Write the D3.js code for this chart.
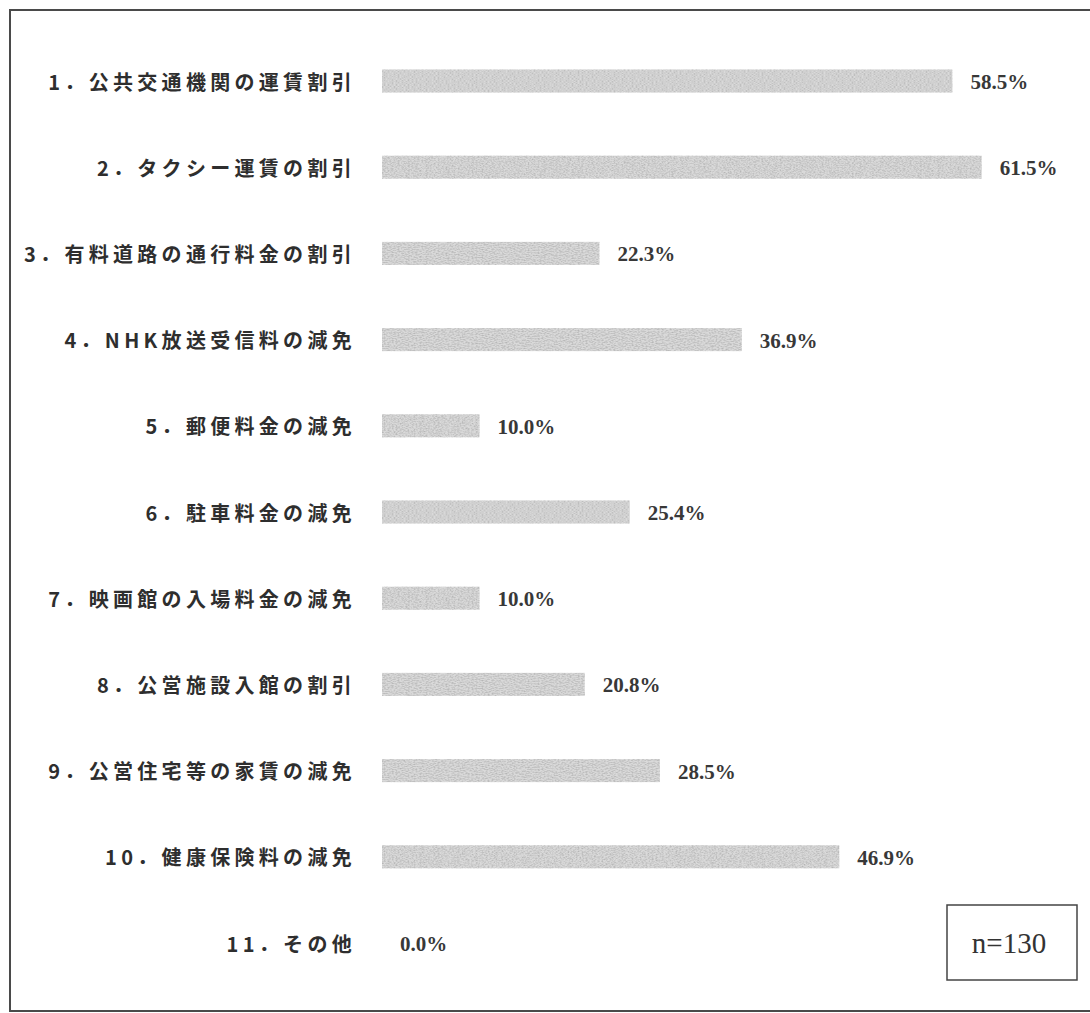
<!DOCTYPE html>
<html>
<head>
<meta charset="utf-8">
<script src="https://cdn.jsdelivr.net/npm/d3@7"></script>
<style>
  body { margin: 0; background: #fff; }
  svg { display: block; }
</style>
</head>
<body>
<svg id="main" width="1090" height="1013"></svg>
<script>
// 割引・減免の利用状況
const items = [
  "1．公共交通機関の運賃割引",
  "2．タクシー運賃の割引",
  "3．有料道路の通行料金の割引",
  "4．NHK放送受信料の減免",
  "5．郵便料金の減免",
  "6．駐車料金の減免",
  "7．映画館の入場料金の減免",
  "8．公営施設入館の割引",
  "9．公営住宅等の家賃の減免",
  "10．健康保険料の減免",
  "11．その他"
];
const percents = [58.5, 61.5, 22.3, 36.9, 10.0, 25.4, 10.0, 20.8, 28.5, 46.9, 0.0];
const sampleNote = "n=130";

const svg = d3.select("#main");

// grainy print look for the bars
const defs = svg.append("defs");
const grain = defs.append("filter").attr("id", "grain")
  .attr("x", "-2%").attr("y", "-10%").attr("width", "104%").attr("height", "120%");
grain.append("feTurbulence").attr("type", "fractalNoise")
  .attr("baseFrequency", "0.5 1.0").attr("numOctaves", 2).attr("seed", 7).attr("result", "noise");
grain.append("feColorMatrix").attr("in", "noise").attr("type", "matrix")
  .attr("values", "0 0 0 0 0.45  0 0 0 0 0.45  0 0 0 0 0.45  0 0 0 1.8 -0.6")
  .attr("result", "speck");
grain.append("feComposite").attr("in", "speck").attr("in2", "SourceGraphic")
  .attr("operator", "in").attr("result", "speckIn");
const merge = grain.append("feMerge").attr("result", "merged");
merge.append("feMergeNode").attr("in", "SourceGraphic");
merge.append("feMergeNode").attr("in", "speckIn");
grain.append("feGaussianBlur").attr("in", "merged").attr("stdDeviation", 0.6);

// outer frame (right side runs off the page)
svg.append("path")
  .attr("d", "M1095,10 H10 V1011 H1095")
  .attr("fill", "none")
  .attr("stroke", "#4a4a4a")
  .attr("stroke-width", 2);

const x = d3.scaleLinear().domain([0, 100]).range([382, 1357]);
const y = d3.scalePoint().domain(items).range([81, 943]);
const barH = 23;

const rows = svg.selectAll("g.row")
  .data(items.map((d, i) => ({ label: d, value: percents[i] })))
  .enter()
  .append("g")
  .attr("class", "row")
  .attr("transform", d => `translate(0,${y(d.label)})`);

rows.append("rect")
  .attr("x", x(0))
  .attr("y", -barH / 2)
  .attr("width", d => x(d.value) - x(0))
  .attr("height", barH)
  .attr("fill", "#dadada")
  .attr("filter", "url(#grain)");

rows.append("text")
  .attr("x", 356)
  .attr("y", 0)
  .attr("text-anchor", "end")
  .attr("dominant-baseline", "central")
  .attr("font-family", "'Noto Sans CJK JP', sans-serif")
  .attr("font-weight", "bold")
  .attr("font-size", 20)
  .attr("letter-spacing", 4.3)
  .attr("fill", "#2e2e2e")
  .text(d => d.label);

rows.append("text")
  .attr("x", d => x(d.value) + 18)
  .attr("y", 1)
  .attr("dominant-baseline", "central")
  .attr("font-family", "'Liberation Serif', serif")
  .attr("font-weight", "bold")
  .attr("font-size", 21)
  .attr("fill", "#383838")
  .text(d => d3.format(".1f")(d.value) + "%");

// sample size box
svg.append("rect")
  .attr("x", 947).attr("y", 905)
  .attr("width", 130).attr("height", 75)
  .attr("fill", "#fff")
  .attr("stroke", "#444")
  .attr("stroke-width", 1.5);
svg.append("text")
  .attr("x", 1009).attr("y", 943)
  .attr("text-anchor", "middle")
  .attr("dominant-baseline", "central")
  .attr("font-family", "'Liberation Serif', serif")
  .attr("font-size", 29)
  .attr("fill", "#333")
  .text(sampleNote);
</script>
</body>
</html>
